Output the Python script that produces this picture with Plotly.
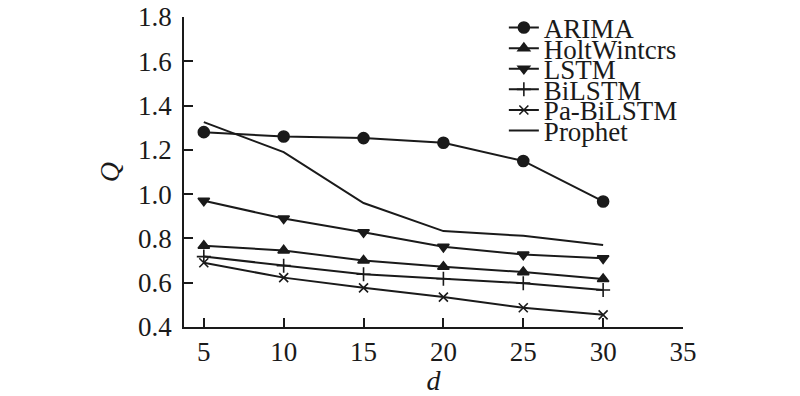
import plotly.graph_objects as go

d = [5, 10, 15, 20, 25, 30]
arima = [1.28, 1.26, 1.253, 1.232, 1.15, 0.967]
holtwinters = [0.767, 0.746, 0.70, 0.672, 0.648, 0.617]
lstm = [0.97, 0.89, 0.828, 0.762, 0.727, 0.71]
bilstm = [0.718, 0.677, 0.638, 0.618, 0.598, 0.567]
pa_bilstm = [0.69, 0.623, 0.577, 0.535, 0.487, 0.455]
prophet = [1.325, 1.19, 0.96, 0.833, 0.812, 0.77]

names = ["ARIMA", "HoltWintcrs", "LSTM", "BiLSTM", "Pa-BiLSTM", "Prophet"]
series = [arima, holtwinters, lstm, bilstm, pa_bilstm, prophet]
symbols = ["circle", "triangle-up", "triangle-down", "cross-thin", "x-thin", None]
sizes = [11, 10, 10, 10, 9, 0]

col = "#1a1a1a"
font_family = "Liberation Serif, Times New Roman, serif"

fig = go.Figure()
for i, (nm, ys, sym, sz) in enumerate(zip(names, series, symbols, sizes)):
    lg = "legend" if i == 0 else f"legend{i+1}"
    if sym is None:
        mode = "lines"
        marker = None
    else:
        mode = "lines+markers"
        marker = dict(symbol=sym, size=sz, color=col,
                      line=dict(color=col, width=1.6))
    fig.add_trace(go.Scatter(x=d, y=ys, name=nm, mode=mode,
                             line=dict(color=col, width=2),
                             marker=marker, legend=lg))

# page body has an 8px margin, so the figure starts at (8, 8)
plot_top, plot_bottom = 17, 327
ph = plot_bottom - plot_top
layout_legends = {}
row0 = 28
step = 20.6
for i in range(6):
    key = "legend" if i == 0 else f"legend{i+1}"
    cy = row0 + i * step
    layout_legends[key] = dict(
        x=0.641, xanchor="left",
        y=(plot_bottom - cy) / ph, yanchor="middle",
        font=dict(family=font_family, size=27, color=col),
        bgcolor="rgba(0,0,0,0)", borderwidth=0,
        tracegroupgap=0,
    )

fig.update_layout(
    width=792, height=388,
    margin=dict(l=176, r=117, t=9, b=69, autoexpand=False),
    paper_bgcolor="white", plot_bgcolor="white",
    font=dict(family=font_family, size=26, color=col),
    showlegend=True,
    **layout_legends,
)
fig.update_xaxes(
    range=[3.76, 35], tickvals=[5, 10, 15, 20, 25, 30, 35],
    ticks="inside", ticklen=9, tickwidth=1.5, tickcolor=col,
    showline=True, linecolor=col, linewidth=1.5,
    showgrid=False, zeroline=False, automargin=False,
    ticklabeloverflow="allow",
    tickfont=dict(family=font_family, size=27, color=col),
    title=dict(text="<i>d</i>", font=dict(family=font_family, size=28, color=col), standoff=0),
)
fig.update_yaxes(
    range=[0.4, 1.8], tickvals=[0.4, 0.6, 0.8, 1.0, 1.2, 1.4, 1.6, 1.8],
    ticktext=["0.4", "0.6", "0.8", "1.0", "1.2", "1.4", "1.6", "1.8"],
    ticks="inside", ticklen=9, tickwidth=1.5, tickcolor=col,
    showline=True, linecolor=col, linewidth=1.5,
    showgrid=False, zeroline=False, automargin=False,
    ticklabeloverflow="allow", ticklabelstandoff=5,
    tickfont=dict(family=font_family, size=27, color=col),
    title=dict(text="<i>Q</i>", font=dict(family=font_family, size=28, color=col), standoff=10),
)
fig.write_html("out.html")
